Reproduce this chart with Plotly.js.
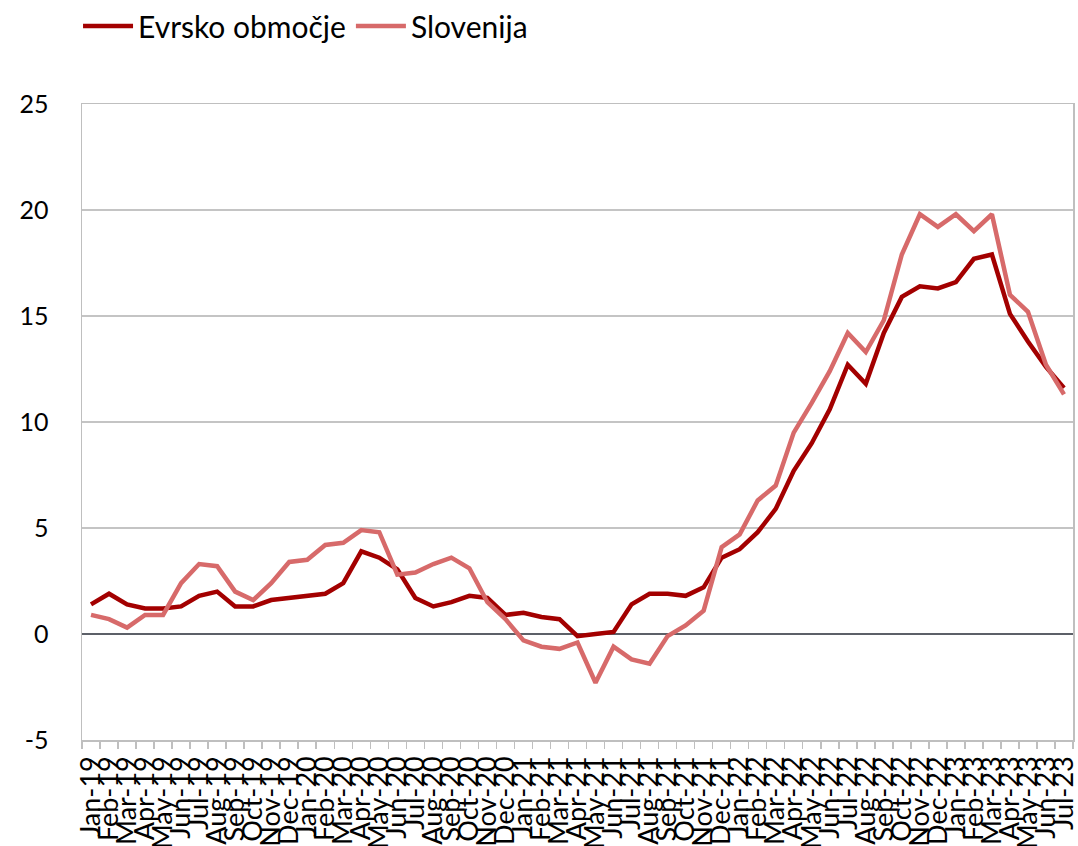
<!DOCTYPE html>
<html>
<head>
<meta charset="utf-8">
<script src="https://cdn.plot.ly/plotly-3.0.1.min.js"></script>
<style>html,body{margin:0;padding:0;background:#fff;}#chart{width:1078px;height:846px;}</style>
</head>
<body>
<div id="chart"></div>
<script>
const months = ["Jan-19","Feb-19","Mar-19","Apr-19","May-19","Jun-19","Jul-19","Aug-19","Sep-19","Oct-19","Nov-19","Dec-19",
"Jan-20","Feb-20","Mar-20","Apr-20","May-20","Jun-20","Jul-20","Aug-20","Sep-20","Oct-20","Nov-20","Dec-20",
"Jan-21","Feb-21","Mar-21","Apr-21","May-21","Jun-21","Jul-21","Aug-21","Sep-21","Oct-21","Nov-21","Dec-21",
"Jan-22","Feb-22","Mar-22","Apr-22","May-22","Jun-22","Jul-22","Aug-22","Sep-22","Oct-22","Nov-22","Dec-22",
"Jan-23","Feb-23","Mar-23","Apr-23","May-23","Jun-23","Jul-23"];

const evrskoObmocje = [1.4,1.9,1.4,1.2,1.2,1.3,1.8,2.0,1.3,1.3,1.6,1.7,
1.8,1.9,2.4,3.9,3.6,3.05,1.7,1.3,1.5,1.8,1.7,0.9,
1.0,0.8,0.7,-0.1,0.0,0.1,1.4,1.9,1.9,1.8,2.2,3.6,
4.0,4.8,5.9,7.7,9.0,10.6,12.7,11.8,14.2,15.9,16.4,16.3,
16.6,17.7,17.9,15.1,13.8,12.6,11.6];

const slovenija = [0.9,0.7,0.3,0.9,0.9,2.4,3.3,3.2,2.0,1.6,2.4,3.4,
3.5,4.2,4.3,4.9,4.8,2.8,2.9,3.3,3.6,3.1,1.5,0.7,
-0.3,-0.6,-0.7,-0.4,-2.3,-0.6,-1.2,-1.4,-0.1,0.4,1.1,4.1,
4.7,6.3,7.0,9.5,10.9,12.4,14.2,13.3,14.8,17.9,19.8,19.2,
19.8,19.0,19.8,16.0,15.2,12.7,11.3];

const yTicks = [-5,0,5,10,15,20,25];
const yTickLabels = ["-5","0","5","10","15","20","25"];

const seriesNames = ["Evrsko območje","Slovenija"];
const seriesColors = ["#a30000","#d76a6a"];

const FONT = "Lato, 'Source Sans Pro', 'Noto Sans', sans-serif";

const traces = [evrskoObmocje, slovenija].map((vals, i) => ({
  x: months, y: vals, name: seriesNames[i], type: "scatter", mode: "lines",
  line: {color: seriesColors[i], width: 4.5}
}));

const layout = {
  width: 1078, height: 846,
  margin: {l: 82, r: 5, t: 104, b: 106},
  paper_bgcolor: "#fff", plot_bgcolor: "#fff",
  font: {family: FONT, color: "#000"},
  showlegend: true,
  legend: {orientation: "h", x: -0.004, xref: "paper", y: 1, yref: "container", xanchor: "left", yanchor: "top",
    font: {size: 30, family: FONT, color: "#000"}, itemwidth: 50,
    tracegroupgap: 0, bgcolor: "rgba(0,0,0,0)"},
  xaxis: {
    type: "category", tickmode: "array", tickvals: months, ticktext: months,
    tickson: "boundaries", ticks: "outside", ticklen: 7, tickcolor: "#bfbfbf", tickwidth: 1.5,
    tickangle: -90, tickfont: {size: 27, family: FONT, color: "#000"}, ticklabelstandoff: 4,
    showgrid: false, showline: true, linecolor: "#bfbfbf", linewidth: 1.5, mirror: true,
    automargin: false, range: [-0.5, months.length - 0.5], fixedrange: true
  },
  yaxis: {
    range: [-5, 25], tickmode: "array", tickvals: yTicks, ticktext: yTickLabels,
    tickfont: {size: 25, family: FONT, color: "#000"}, ticks: "", ticklabelstandoff: 27,
    showgrid: true, gridcolor: "#c4c4c4", gridwidth: 1.5,
    zeroline: true, zerolinecolor: "#5c6068", zerolinewidth: 1.8,
    showline: true, linecolor: "#bfbfbf", linewidth: 1.5, mirror: true,
    automargin: false, fixedrange: true
  }
};

Plotly.newPlot("chart", traces, layout, {staticPlot: true, displayModeBar: false});
</script>
</body>
</html>
